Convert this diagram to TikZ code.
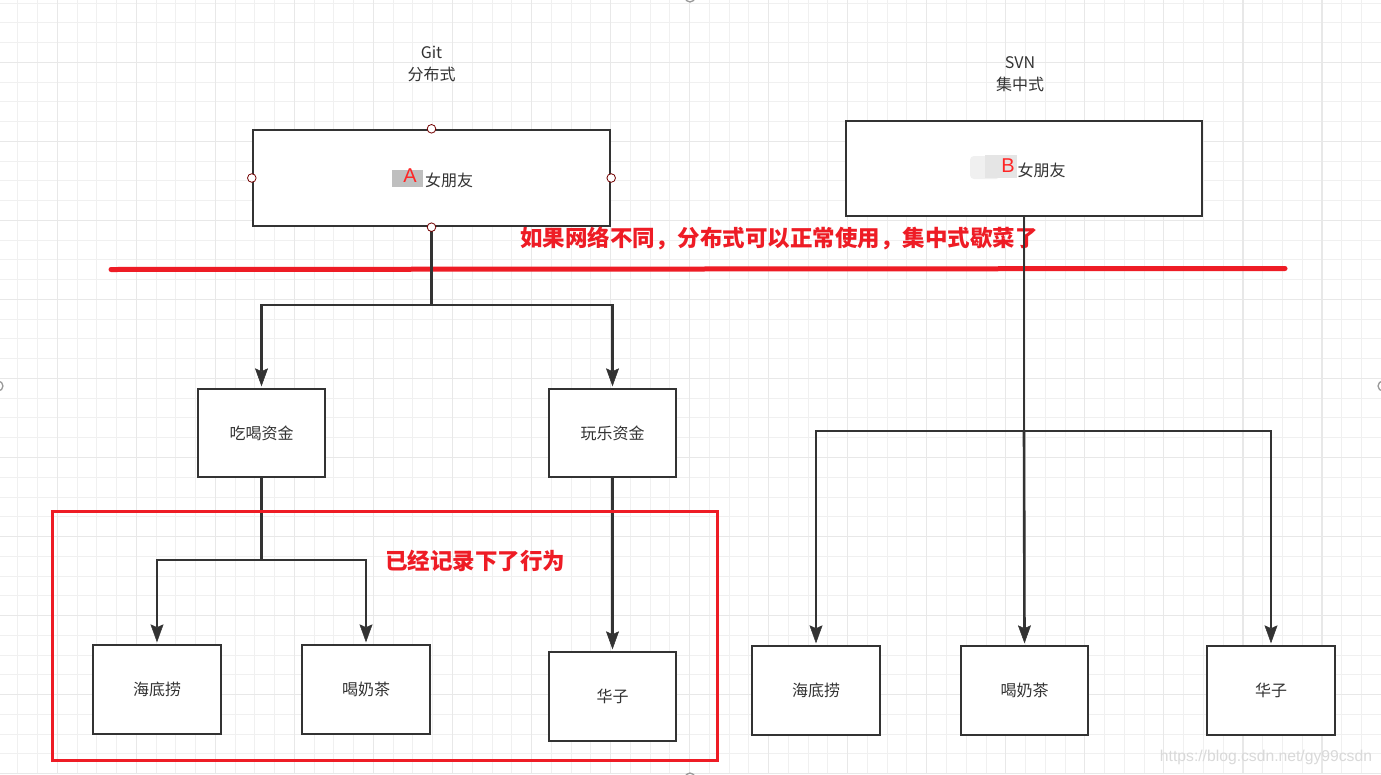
\documentclass[tikz,border=0pt]{standalone}
\usepackage{fontspec}
\newfontfamily\cjk{Noto Sans CJK SC}
\newfontfamily\arialf{Liberation Sans}
\usetikzlibrary{arrows.meta}
\definecolor{ink}{HTML}{333333}
\definecolor{redl}{HTML}{EE1C25}
\definecolor{gminor}{HTML}{F0F0F0}
\definecolor{gmajor}{HTML}{E8E8E8}
\tikzset{
  box/.style={draw=ink, line width=2.4pt, fill=white, inner sep=0pt, font=\cjk\fontsize{16}{18}\selectfont, text=ink},
  conn/.style={draw=ink, line width=2.6pt},
  arr/.style={conn, shorten >=1.5pt, -{Stealth[length=18pt,width=13pt,inset=3pt,line width=0.5pt]}},
  lbl/.style={font=\cjk\fontsize{16}{22}\selectfont, text=ink, align=center, inner sep=0pt},
  redtxt/.style={font=\cjk\bfseries\fontsize{22.5}{24}\selectfont, text=redl, inner sep=0pt},
  handle/.style={draw=gray!80, line width=1.3pt, fill=white},
  cdot/.style={draw=red!45!black, line width=0.8pt, fill=white},
}
\begin{document}
\begin{tikzpicture}[x=1pt,y=-1pt]
\useasboundingbox (0,0) rectangle (1381,774);
\clip (0,0) rectangle (1381,774);
\fill[white] (0,0) rectangle (1381,774);
% grid
\foreach \i in {-2,...,67} {\draw[gminor, line width=1pt] ({57.3+19.76*\i},0) -- ({57.3+19.76*\i},774);}
\foreach \j in {-3,...,36} {\draw[gminor, line width=1pt] (0,{62.3+19.76*\j}) -- (1381,{62.3+19.76*\j});}
\foreach \i in {0,...,16} {\draw[gmajor, line width=1.2pt] ({57.3+79.04*\i},0) -- ({57.3+79.04*\i},774);}
\foreach \j in {-1,...,9} {\draw[gmajor, line width=1.2pt] (0,{62.3+79.04*\j}) -- (1381,{62.3+79.04*\j});}

% titles
\node[lbl] (git) at (431.5,64) {Git\\分布式};
\node[lbl] (svn) at (1020,74) {SVN\\集中式};

% top boxes
\node[box, minimum width=357pt, minimum height=96pt] (A) at (431.5,178) {};
\node[box, minimum width=356pt, minimum height=95pt] (B) at (1024,168.5) {};
% A label
\fill[gray!50] (392,170) rectangle (423,187);
\node[font=\arialf\fontsize{20}{22}\selectfont, text=red!85, inner sep=0pt] (Aletter) at (410,176) {A};
\node[lbl] (Atext) at (449,180) {女朋友};
% B label
\fill[gray!12, rounded corners=4pt] (970,156) rectangle (1000,179);
\fill[gray!20] (985,155) rectangle (1017,178);
\node[font=\arialf\fontsize{20}{22}\selectfont, text=red!85, inner sep=0pt] (Bletter) at (1008,166) {B};
\node[lbl] (Btext) at (1041.5,170) {女朋友};

% second row
\node[box, minimum width=127pt, minimum height=88pt] (eat) at (261.5,433) {吃喝资金};
\node[box, minimum width=127pt, minimum height=88pt] (play) at (612.5,433) {玩乐资金};

% bottom left
\node[box, minimum width=128pt, minimum height=89pt] (hdl) at (157,689.5) {海底捞};
\node[box, minimum width=128pt, minimum height=89pt] (hnc) at (366,689.5) {喝奶茶};
\node[box, minimum width=127pt, minimum height=89pt] (hz) at (612.5,696.5) {华子};

% bottom right
\node[box, minimum width=128pt, minimum height=89pt] (hdlR) at (816,690.5) {海底捞};
\node[box, minimum width=127pt, minimum height=89pt] (hncR) at (1024.5,690.5) {喝奶茶};
\node[box, minimum width=128pt, minimum height=89pt] (hzR) at (1271,690.5) {华子};

% red line and text
\coordinate (rl1) at (111,269.5);
\coordinate (rl2) at (1285,268.5);
\draw[redl, line width=5pt, line cap=round] (rl1) -- (rl2);
\node[redtxt, anchor=west] (note1) at (520,238) {如果网络不同，分布式可以正常使用，集中式歇菜了};

% connectors Git
\coordinate (Aj) at (431.5,305);
\draw[conn] (A.south) -- (Aj);
\draw[arr] (Aj) -| (eat.north);
\draw[arr] (Aj) -| (play.north);
\coordinate (Ej) at (261.5,560);
\draw[conn] (eat.south) -- (Ej);
\draw[arr] (Ej) -| (hdl.north);
\draw[arr] (Ej) -| (hnc.north);
\draw[arr] (play.south) -- (hz.north);

% connectors SVN
\coordinate (Bj) at (1024,431);
\draw[conn] (B.south) -- (Bj);
\draw[arr] (Bj) -| (hdlR.north);
\draw[arr] (Bj) -| (hzR.north);
\draw[arr] (Bj) -- (hncR.north);

% A connection dots
\foreach \p in {A.north, A.south, A.west, A.east} {\draw[cdot] (\p) circle (4.3pt);}

% red frame
\draw[redl, line width=3pt] (52,511) rectangle (717,760);
\node[redtxt, anchor=west] (note2) at (385,561) {已经记录下了行为};

% watermark
\node[font=\arialf\fontsize{15.7}{17}\selectfont, text=gray!30, inner sep=0pt] (wm) at (1266,757) {https://blog.csdn.net/gy99csdn};

% canvas handles
\draw[handle] (690,-3) circle (5pt);
\draw[handle] (690,778) circle (5pt);
\draw[handle] (-2,386) circle (5pt);
\draw[handle] (1383,386) circle (5pt);
\end{tikzpicture}
\end{document}
